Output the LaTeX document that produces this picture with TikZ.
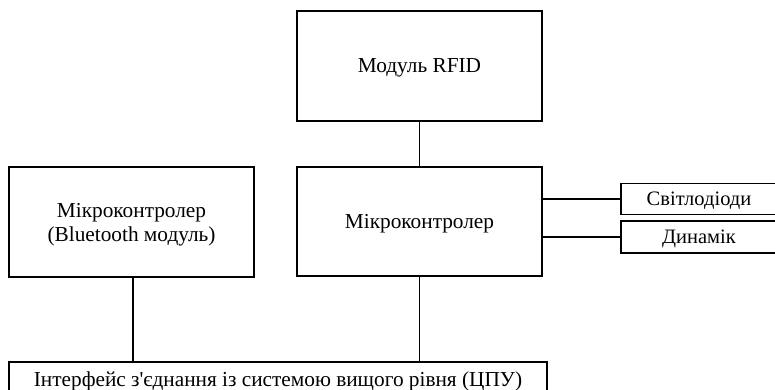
\documentclass[tikz,border=0pt]{standalone}
\usepackage{fontspec}
\setmainfont{Liberation Serif}[Ligatures=TeXOff]
\begin{document}
\begin{tikzpicture}[x=1pt,y=-1pt,
  blk/.style={draw, line width=1.5pt, rectangle, inner sep=0pt, align=center, text depth=0pt, font=\fontsize{21.3}{24}\selectfont},
  sblk/.style={draw, line width=1.5pt, rectangle, inner sep=0pt, align=center, text depth=0pt, font=\fontsize{20.5}{23}\selectfont},
  conn/.style={line width=1.5pt}]
\useasboundingbox (0,0) rectangle (775,390);
\node[blk, minimum width=245pt, minimum height=110pt] (rfid) at (419.5,66) {Модуль RFID};
\node[blk, minimum width=245pt, minimum height=109pt] (mcu) at (419.5,221.5) {Мікроконтролер};
\node[blk, minimum width=245pt, minimum height=110pt] (bt) at (131.5,222) {Мікроконтролер\\(Bluetooth модуль)};
\node[blk, minimum width=538pt, minimum height=34pt] (bus) at (278,379) {Інтерфейс з'єднання із системою вищого рівня (ЦПУ)};
\node[sblk, minimum width=156pt, minimum height=31pt] (led) at (699,199) {Світлодіоди};
\node[sblk, minimum width=156pt, minimum height=32pt] (spk) at (699,237) {Динамік};
\draw[conn] (rfid.south) -- (mcu.north);
\draw[conn] ([xshift=1.5pt]bt.south) -- ([xshift=1.5pt]bt.south |- bus.north);
\draw[conn] (mcu.south) -- (mcu.south |- bus.north);
\draw[conn] (mcu.east |- led.west) -- (led.west);
\draw[conn] (mcu.east |- spk.west) -- (spk.west);
\end{tikzpicture}
\end{document}
